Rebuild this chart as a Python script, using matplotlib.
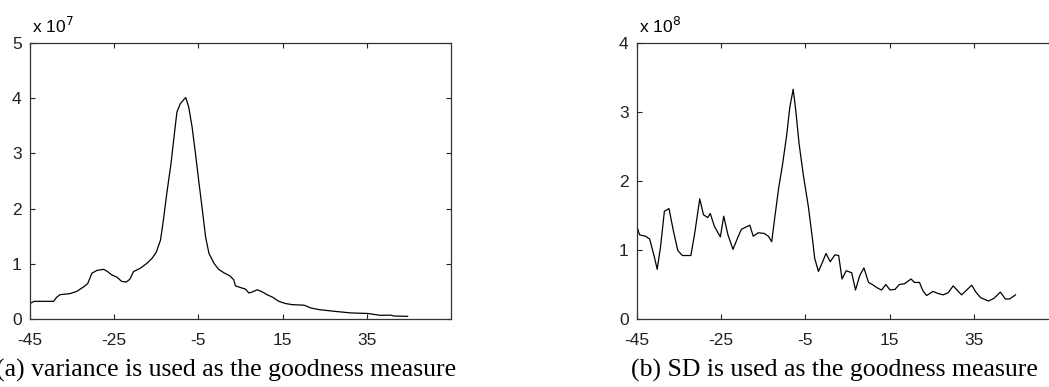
import matplotlib
matplotlib.use("Agg")
import matplotlib.pyplot as plt

plt.rcParams["axes.unicode_minus"] = False

# Panel (a): variance as the goodness measure, values in units of 1e7
var_x = [-45, -44, -39.4, -38.7, -37.9, -35.5, -33.9, -32.3, -31.3, -30.3, -29.1,
         -27.5, -26.6, -25.6, -24.4, -23.2, -22.1, -21.3, -20.4, -18.8, -17.2,
         -16.0, -15.0, -14.0, -13.3, -12.5, -11.5, -10.7, -10.1, -9.3, -8.3, -8.0,
         -7.3, -6.5, -5.7, -4.9, -4.1, -3.3, -2.5, -1.3, -0.2, 1.0, 2.5, 3.4, 3.8,
         5.0, 6.2, 7.0, 7.8, 9.0, 10.2, 11.3, 12.5, 14.1, 15.7, 17.3, 20.1, 21.7,
         23.7, 27.2, 31.2, 35.2, 38.3, 40.7, 41.5, 44.7]
var_y = [0.28, 0.32, 0.32, 0.39, 0.44, 0.46, 0.50, 0.58, 0.64, 0.83, 0.88,
         0.90, 0.86, 0.80, 0.76, 0.68, 0.67, 0.72, 0.86, 0.92, 1.01,
         1.10, 1.21, 1.43, 1.80, 2.28, 2.82, 3.36, 3.75, 3.90, 3.99, 4.01,
         3.84, 3.48, 3.00, 2.49, 2.00, 1.49, 1.19, 1.01, 0.90, 0.84, 0.78, 0.71, 0.60,
         0.57, 0.54, 0.47, 0.49, 0.53, 0.49, 0.44, 0.40, 0.32, 0.28, 0.26, 0.25, 0.20,
         0.17, 0.14, 0.11, 0.10, 0.066, 0.07, 0.054, 0.048]

# Panel (b): SD as the goodness measure, values in units of 1e8
sd_x = [-45, -44.4, -43, -42, -41, -40.2, -39.4, -38.5, -37.4, -36.4, -35.3, -34.2,
        -32.2, -31.3, -30.1, -29.2, -28.2, -27.6, -26.6, -25.2, -24.4, -23.4, -22.2,
        -21.0, -20.2, -18.2, -17.4, -16.2, -14.8, -13.8, -13.0, -12.3, -11.3, -10.5,
        -9.5, -8.7, -7.9, -7.3, -6.5, -5.5, -4.3, -3.3, -2.8, -1.9, -0.9, -0.1, 0.9,
        2.0, 2.9, 3.7, 4.7, 6.0, 6.9, 7.9, 8.9, 10.0, 10.9, 12.1, 13.1, 14.1, 15.1,
        16.3, 17.3, 18.5, 20.1, 20.9, 22.1, 22.9, 23.8, 25.3, 26.5, 27.7, 28.9, 30.1,
        31.3, 32.1, 33.3, 34.5, 35.5, 36.6, 38.5, 39.8, 41.3, 42.5, 43.5, 44.9]
sd_y = [1.34, 1.22, 1.20, 1.16, 0.93, 0.72, 1.05, 1.56, 1.60, 1.29, 0.99, 0.92,
        0.92, 1.24, 1.74, 1.51, 1.47, 1.53, 1.34, 1.19, 1.49, 1.22, 1.01,
        1.19, 1.30, 1.36, 1.20, 1.25, 1.24, 1.20, 1.12, 1.46, 1.92, 2.21,
        2.64, 3.07, 3.33, 3.03, 2.54, 2.09, 1.63, 1.15, 0.88, 0.69, 0.83, 0.95, 0.83,
        0.93, 0.92, 0.58, 0.70, 0.67, 0.42, 0.63, 0.74, 0.53, 0.50, 0.45, 0.42, 0.50, 0.42,
        0.43, 0.50, 0.51, 0.58, 0.53, 0.53, 0.41, 0.34, 0.40, 0.37, 0.35, 0.38, 0.48,
        0.40, 0.35, 0.42, 0.49, 0.39, 0.31, 0.26, 0.30, 0.39, 0.29, 0.29, 0.35]

x_ticks = [-45, -25, -5, 15, 35]
captions = ["(a) variance is used as the goodness measure",
            "(b) SD is used as the goodness measure"]
exponents = [7, 8]
y_tops = [5, 4]

W, H = 1049, 387
fig = plt.figure(figsize=(W / 100, H / 100), dpi=100)

tick_font = "Liberation Sans"


def make_axes(left_px, xs, ys, ymax, expo):
    ax = fig.add_axes([left_px / W, 68 / H, 421 / W, 276 / H])
    ax.plot(xs, ys, color="black", lw=0.9)
    ax.set_xlim(-45, 55)
    ax.set_ylim(0, ymax)
    ax.set_xticks(x_ticks)
    ax.set_yticks(range(ymax + 1))
    ax.tick_params(direction="in", length=3.5, width=0.8, top=True, right=True,
                   labelsize=12.5, colors="#222222")
    ax.tick_params(axis="x", pad=10)
    ax.tick_params(axis="y", pad=6)
    for lab in ax.get_xticklabels() + ax.get_yticklabels():
        lab.set_fontfamily(tick_font)
    for sp in ax.spines.values():
        sp.set_linewidth(0.9)
        sp.set_color("#333333")
    ax.text(0.005, 1.025, f"x 10$^{{{expo}}}$", transform=ax.transAxes,
            fontsize=12.5, family=tick_font, ha="left", va="bottom")
    return ax


make_axes(30, var_x, var_y, y_tops[0], exponents[0])
make_axes(637, sd_x, sd_y, y_tops[1], exponents[1])

fig.text(226 / W, 10 / H, captions[0], family="Liberation Serif", fontsize=18.5,
         ha="center", va="baseline")
fig.text(834 / W, 10 / H, captions[1], family="Liberation Serif", fontsize=18.5,
         ha="center", va="baseline")

fig.savefig("out.png", dpi=100)
